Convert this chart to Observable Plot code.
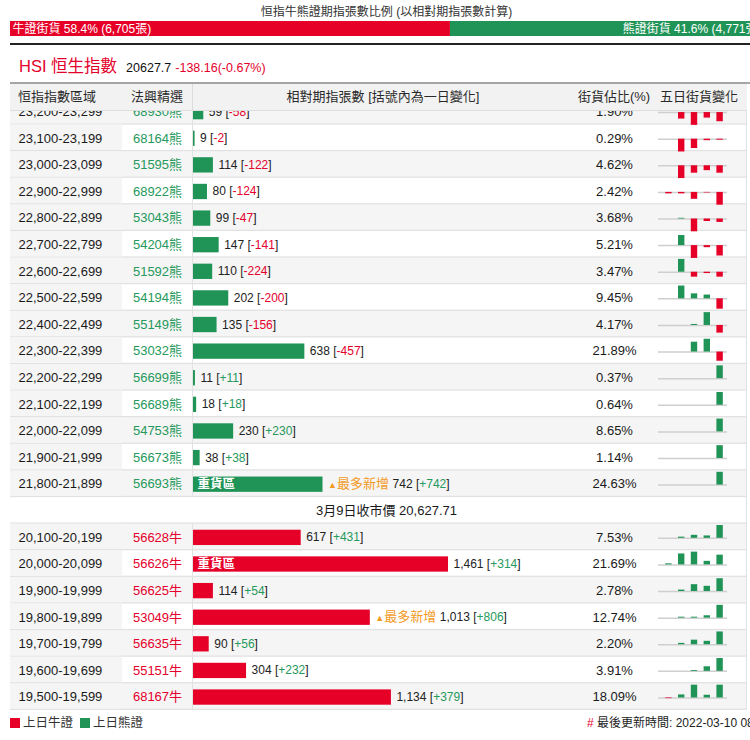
<!DOCTYPE html>
<html><head><meta charset="utf-8">
<script src="https://cdn.jsdelivr.net/npm/d3@7"></script>
<script src="https://cdn.jsdelivr.net/npm/@observablehq/plot@0.6"></script>
<style>
html,body{margin:0;padding:0;overflow:hidden;background:#fff}
#page{position:relative;width:773px;height:740px;font-family:"Liberation Sans","Noto Sans CJK TC","Noto Sans",sans-serif;color:#222}
.abs{position:absolute;white-space:nowrap}
svg{display:block}
</style></head><body><div id="page"></div>
<script>
// ---------- data ----------
const chartTitle = "恒指牛熊證期指張數比例 (以相對期指張數計算)";
const bullCount = 6705, bearCount = 4771;
const bullShare = "58.4", bearShare = "41.6";
const indexName = "HSI 恒生指數";
const indexLast = "20627.7", indexChg = "-138.16", indexChgPct = "-0.67%";
const closeLabel = "3月9日收市價 20,627.71";
const headers = ["恒指指數區域", "法興精選", "相對期指張數 [括號內為一日變化]", "街貨佔比(%)", "五日街貨變化"];
const updated = "最後更新時間: 2022-03-10 08:30";
const legendLabels = ["上日牛證", "上日熊證"];

const bearRanges = ["23,200-23,299","23,100-23,199","23,000-23,099","22,900-22,999","22,800-22,899","22,700-22,799","22,600-22,699","22,500-22,599","22,400-22,499","22,300-22,399","22,200-22,299","22,100-22,199","22,000-22,099","21,900-21,999","21,800-21,899"];
const bearCodes = ["68930","68164","51595","68922","53043","54204","51592","54194","55149","53032","56699","56689","54753","56673","56693"];
const bearOI = [59, 9, 114, 80, 99, 147, 110, 202, 135, 638, 11, 18, 230, 38, 742];
const bearChg = [-58, -2, -122, -124, -47, -141, -224, -200, -156, -457, 11, 18, 230, 38, 742];
const bearPct = ["1.90","0.29","4.62","2.42","3.68","5.21","3.47","9.45","4.17","21.89","0.37","0.64","8.65","1.14","24.63"];
const bearSpark = [
  [0,-41,-81,-35,-58],[0,-26,-19,-3,-2],[0,-211,-122,-80,-122],[-14,-14,-67,-5,-124],
  [0,10,-175,-34,-47],[0,137,-174,-28,-141],[0,582,-224,-60,-224],[0,247,96,73,-200],
  [0,0,20,260,-156],[0,0,490,637,-457],[0,0,0,0,11],[0,0,0,0,18],[0,0,0,0,230],[0,0,0,0,38],[0,0,0,0,742]
];

const bullRanges = ["20,100-20,199","20,000-20,099","19,900-19,999","19,800-19,899","19,700-19,799","19,600-19,699","19,500-19,599"];
const bullCodes = ["56628","56626","56625","53049","56635","55151","68167"];
const bullOI = [617, 1461, 114, 1013, 90, 304, 1134];
const bullChg = [431, 314, 54, 806, 56, 232, 379];
const bullPct = ["7.53","21.69","2.78","12.74","2.20","3.91","18.09"];
const bullSpark = [
  [0,40,100,80,431],[35,353,412,115,314],[0,6,29,22,54],[0,60,60,150,806],
  [0,6,20,15,56],[0,0,15,83,232],[-20,90,379,80,379]
];

// ---------- styles ----------
const FONT = '"Liberation Sans","Noto Sans CJK TC","Noto Sans",sans-serif';
const RED = "#e60028", GREEN = "#1f9456", TRED = "#e4002b", TGREEN = "#26995c", ORANGE = "#f39a1e";
const GREYROW = "#f5f5f5", LINE = "#e2e2e2";

// ---------- build rows ----------
function mk(kind, ranges, codes, oi, chg, pct, spark) {
  const heavy = d3.maxIndex(oi), most = d3.maxIndex(chg);
  return ranges.map((r, i) => ({
    id: r, kind, range: r, code: codes[i] + (kind === "bull" ? "牛" : "熊"),
    oi: oi[i], chg: chg[i], pct: pct[i] + "%", spark: spark[i],
    grey: i % 2 === 0, heavy: i === heavy, most: i === most
  }));
}
const bearRows = mk("bear", bearRanges, bearCodes, bearOI, bearChg, bearPct, bearSpark);
const bullRows = mk("bull", bullRanges, bullCodes, bullOI, bullChg, bullPct, bullSpark);
const closeRow = {id: "close", kind: "close", label: closeLabel};
const dataRows = [...bearRows, ...bullRows];
const allRows = [...bearRows, closeRow, ...bullRows];
const rowIds = allRows.map(d => d.id);
const maxOI = d3.max(dataRows, d => d.oi);

const page = document.getElementById("page");
function div(css, html) { const e = document.createElement("div"); e.className = "abs"; e.style.cssText = css; if (html != null) e.innerHTML = html; page.appendChild(e); return e; }

// title
div("top:4px;left:0;width:773px;text-align:center;font-size:12px;line-height:16px;color:#333", chartTitle);

// ratio bar
const total = bullCount + bearCount;
const ratioRows = [{k: "bull", count: bullCount, color: RED}, {k: "bear", count: bearCount, color: GREEN}];
const ratio = Plot.plot({
  width: 773, height: 15, marginLeft: 10, marginRight: 10, marginTop: 0, marginBottom: 0,
  style: {fontFamily: FONT, fontSize: "12px", background: "transparent"},
  x: {domain: [0, total], axis: null},
  color: {type: "identity"},
  marks: [
    Plot.barX(ratioRows, {x: "count", fill: "color"}),
    Plot.text([0], {x: () => 0, text: () => `牛證街貨 ${bullShare}% (${d3.format(",")(bullCount)}張)`, dx: 2, textAnchor: "start", fill: "white"}),
    Plot.text([0], {x: () => total, text: () => `熊證街貨 ${bearShare}% (${d3.format(",")(bearCount)}張)`, dx: -2, textAnchor: "end", fill: "white"})
  ]
});
const ratioWrap = div("top:21px;left:0;width:773px;height:15px");
ratioWrap.appendChild(ratio);

// thick line
div("top:43px;left:10px;width:763px;height:2px;background:#222");
// HSI line
div("top:53px;left:19px;display:flex;align-items:baseline",
  `<span style="font-size:16.5px;color:${TRED}">${indexName}</span>` +
  `<span style="font-size:12.5px;color:#111;margin-left:9px">${indexLast}</span>` +
  `<span style="font-size:12.5px;color:${TRED};margin-left:4px">${indexChg}(${indexChgPct})</span>`);
// grey line
div("top:82px;left:10px;width:763px;height:2px;background:#a5a5a5");

// header
const hdr = div("top:84px;left:10px;width:737px;height:26px;background:#f2f2f2;border-bottom:1px solid #dcdcdc;font-size:13px;color:#2a2a2a;line-height:26px");
const hpos = [[8, "start"], [147, "middle"], [373, "middle"], [604, "middle"], [689, "middle"]];
headers.forEach((h, i) => {
  const s = document.createElement("span");
  s.className = "abs";
  s.style.cssText = `top:0;left:${hpos[i][0]}px;` + (hpos[i][1] === "middle" ? "transform:translateX(-50%);" : "");
  s.textContent = h;
  hdr.appendChild(s);
});
const hdiv = document.createElement("div"); hdiv.className = "abs"; hdiv.style.cssText = "top:0;left:182px;width:1px;height:26px;background:#dcdcdc"; hdr.appendChild(hdiv);

// body
const bodyBox = div("top:111px;left:10px;width:737px;height:599px;overflow:hidden");

const labelText = d => (d.most ? "▲最多新增" : "") + "|" + d3.format(",")(d.oi) + "|" + (d.chg > 0 ? "+" : "-") + Math.abs(d.chg);

const body = Plot.plot({
  width: 737, height: 612, marginLeft: 183, marginRight: 299, marginTop: 0, marginBottom: 0,
  style: {fontFamily: FONT, fontSize: "13px", background: LINE, color: "#222"},
  x: {domain: [0, maxOI], axis: null},
  y: {domain: rowIds, axis: null, padding: 0, round: false},
  color: {type: "identity"},
  marks: [
    Plot.cell(dataRows, {y: "id", fill: d => d.grey ? GREYROW : "#ffffff", insetRight: -298, insetBottom: 1.3}),
    Plot.cell(dataRows, {y: "id", fill: d => d.grey ? GREYROW : "#ffffff", insetLeft: -183, insetRight: 256, insetBottom: 1.3}),
    Plot.cell(dataRows, {y: "id", fill: GREYROW, insetLeft: -183, insetRight: 326, insetBottom: 1.3}),
    Plot.cell([closeRow], {y: "id", fill: "#ffffff", insetLeft: -183, insetRight: -298, insetBottom: 1.3}),
    Plot.barX(dataRows, {x: "oi", y: "id", fill: d => d.kind === "bull" ? RED : GREEN, insetTop: 6, insetBottom: 5.3}),
    Plot.text(dataRows.filter(d => d.heavy), {y: "id", text: () => "重貨區", frameAnchor: "left", dx: 4, textAnchor: "start", fill: "white", fontWeight: "bold", fontSize: 12.5}),
    Plot.text(dataRows, {x: "oi", y: "id", text: labelText, dx: 5, textAnchor: "start", fill: "#222", fontSize: 12}),
    Plot.text(dataRows, {y: "id", text: "range", frameAnchor: "left", dx: -175, textAnchor: "start", fill: "#1a1a1a"}),
    Plot.text(dataRows, {y: "id", text: "code", frameAnchor: "left", dx: -36, textAnchor: "middle", fill: d => d.kind === "bull" ? TRED : TGREEN}),
    Plot.text(dataRows, {y: "id", text: "pct", frameAnchor: "left", dx: 421, textAnchor: "middle", fill: "#1a1a1a"}),
    Plot.text([closeRow], {y: "id", text: "label", frameAnchor: "left", dx: 193, textAnchor: "middle", fill: "#1a1a1a"})
  ]
});
// split the bar labels into coloured runs
d3.select(body).selectAll("text").each(function () {
  const raw = this.textContent;
  if (raw.indexOf("|") < 0) return;
  const parts = raw.split("|");
  const t = d3.select(this); t.text(null);
  if (parts[0]) {
    t.append("tspan").attr("fill", ORANGE).attr("font-size", 9).text("▲");
    t.append("tspan").attr("fill", ORANGE).attr("font-size", 13).text(parts[0].slice(1) + " ");
  }
  t.append("tspan").text(parts[1] + " [");
  t.append("tspan").attr("fill", parts[2][0] === "+" ? TGREEN : TRED).text(parts[2]);
  t.append("tspan").text("]");
});
const bodyInner = document.createElement("div");
bodyInner.className = "abs"; bodyInner.style.cssText = "top:-12.6px;left:0;width:737px;height:612px";
bodyInner.appendChild(body);
bodyBox.appendChild(bodyInner);

// sparklines
const sparkFlat = [];
dataRows.forEach(r => {
  const m = d3.max(r.spark, v => Math.abs(v)) || 1;
  r.spark.forEach((v, i) => sparkFlat.push({id: r.id, day: i + 1, v, norm: v / m}));
});
const spark = Plot.plot({
  width: 97, height: 612, marginLeft: 12, marginRight: 21, marginTop: 0, marginBottom: 0,
  style: {background: "transparent"},
  fy: {domain: rowIds, padding: 0, axis: null, round: false},
  x: {type: "band", domain: [1, 2, 3, 4, 5], paddingInner: 0.5, paddingOuter: 0.25, axis: null, round: false},
  y: {domain: [-0.98, 1.1], axis: null},
  color: {type: "identity"},
  marks: [
    Plot.ruleY(dataRows, {fy: "id", y: () => 0, stroke: "#cfcfcf", strokeWidth: 1.5, insetLeft: -4, insetRight: -1}),
    Plot.barY(sparkFlat, {fy: "id", x: "day", y1: () => 0, y2: "norm", fill: d => d.v >= 0 ? GREEN : RED})
  ]
});
const sparkWrap = document.createElement("div");
sparkWrap.className = "abs"; sparkWrap.style.cssText = "top:-12.6px;left:640px;width:97px;height:612px";
sparkWrap.appendChild(spark);
bodyBox.appendChild(sparkWrap);

// legend & footer
div(`top:718px;left:10px;width:10px;height:10px;background:${RED}`);
div("top:715px;left:23px;font-size:12.5px;line-height:16px;color:#333", legendLabels[0]);
div(`top:718px;left:80px;width:10px;height:10px;background:${GREEN}`);
div("top:715px;left:93px;font-size:12.5px;line-height:16px;color:#333", legendLabels[1]);
div("top:716px;left:587px;font-size:12px;line-height:15px;color:#222", `<span style="color:${TRED}">#</span> ${updated}`);
</script></body></html>
